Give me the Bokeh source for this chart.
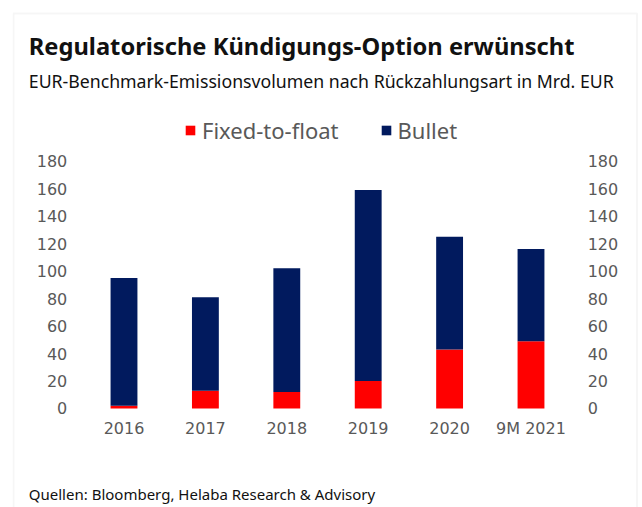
from bokeh.plotting import figure
from bokeh.models import (FactorRange, Range1d, LinearAxis, CategoricalAxis, FixedTicker,
                          Label, BoxAnnotation, Legend, LegendItem)
from bokeh.embed import file_html
from bokeh.resources import INLINE

categories = ["2016", "2017", "2018", "2019", "2020", "9M 2021"]
fixed_to_float = [2, 13, 12, 20, 43, 49]
bullet = [93, 68, 90, 139, 82, 67]
y_ticks = [0, 20, 40, 60, 80, 100, 120, 140, 160, 180]

title_text = "Regulatorische Kündigungs-Option erwünscht"
subtitle_text = "EUR-Benchmark-Emissionsvolumen nach Rückzahlungsart in Mrd. EUR"
source_text = "Quellen: Bloomberg, Helaba Research & Advisory"

RED = "#FF0000"
NAVY = "#011A5E"
GREY = "#595959"
INK = "#111111"

W, H = 642, 507
FL = 12  # frame left in page px

p = figure(width=W, height=H,
           x_range=FactorRange(factors=categories, range_padding=0.8698,
                               range_padding_units="absolute"),
           y_range=Range1d(-72.06, 296.96), output_backend="svg", toolbar_location=None,
           min_border_left=FL, min_border_right=0, min_border_top=0, min_border_bottom=0,
           outline_line_color=None, x_axis_location=None, y_axis_location=None,
           title=None)

data = {"cat": categories, "Fixed-to-float": fixed_to_float, "Bullet": bullet}
rs = p.vbar_stack(["Fixed-to-float", "Bullet"], x="cat", width=0.33, source=data,
                  color=[RED, NAVY], line_color=None)

p.xgrid.grid_line_color = None
p.ygrid.grid_line_color = None


def style_axis(ax, standoff):
    ax.axis_line_color = None
    ax.major_tick_line_color = None
    ax.minor_tick_line_color = None
    ax.major_tick_out = 0
    ax.major_tick_in = 0
    ax.major_label_standoff = standoff
    ax.major_label_text_font = "DejaVu Sans"
    ax.major_label_text_font_size = "16px"
    ax.major_label_text_color = GREY


xax = CategoricalAxis(fixed_location=0)
style_axis(xax, 11)
p.add_layout(xax, "below")

for side, loc, so in (("left", 0, 16), ("right", len(categories), 16)):
    ax = LinearAxis(ticker=FixedTicker(ticks=y_ticks), fixed_location=loc)
    style_axis(ax, so)
    p.add_layout(ax, side)

# card border (screen units relative to frame bottom-left)
p.add_layout(BoxAnnotation(left=1, right=624.5, top=H - 13, bottom=-60,
                           left_units="screen", right_units="screen",
                           top_units="screen", bottom_units="screen",
                           fill_color=None, line_color="#E2E2E2", line_width=2))

def add_text(txt, baseline_y, size, bold=False):
    fs = float(size)
    p.add_layout(Label(x=28.3 - FL, y=H - (baseline_y - 0.36 * fs),
                       x_units="screen", y_units="screen",
                       text=txt, text_font="Noto Sans",
                       text_font_style="bold" if bold else "normal",
                       text_font_size=f"{fs}px", text_color=INK,
                       text_baseline="alphabetic"))

add_text(title_text, 54.3, 23.7, bold=True)
add_text(subtitle_text, 87.3, 17.7)
add_text(source_text, 499.3, 15)

legend = Legend(items=[LegendItem(label="Fixed-to-float", renderers=[rs[0]]),
                       LegendItem(label="Bullet", renderers=[rs[1]])],
                orientation="horizontal", location=(184 - FL, H - 144.5),
                glyph_width=12, glyph_height=12, label_standoff=6, spacing=41,
                padding=0, margin=0, border_line_color=None, background_fill_alpha=0,
                label_text_font="Noto Sans", label_text_font_size="22px",
                label_text_color=GREY, label_height=12)
p.add_layout(legend, "center")

open("out.html", "w").write(file_html(p, INLINE))
